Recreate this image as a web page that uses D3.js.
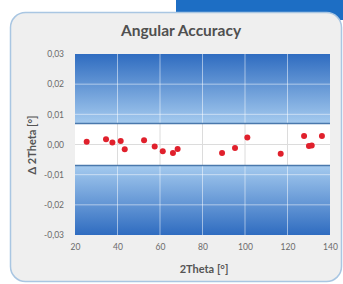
<!DOCTYPE html>
<html lang="en">
<head>
    <meta charset="UTF-8">
    <title>Angular Accuracy</title>
    <style>
        body {
            margin: 0;
            background-color: #fff;
        }

        #chart {
            display: block;
        }

        .tick text {
            font-family: Lato, sans-serif;
            font-size: 8.5px;
            fill: #6a6a6a;
        }
    </style>
</head>
<body>
    <svg id="chart" width="343" height="284"></svg>

    <script src="https://cdnjs.cloudflare.com/ajax/libs/d3/7.8.5/d3.min.js"></script>
    <script>
        // measured points (2Theta, delta 2Theta)
        const twoTheta = [25.5, 34.6, 37.6, 41.5, 43.4, 52.5, 57.5, 61.3, 66.1, 68.3, 89.2, 95.3, 101.1, 116.8, 127.8, 130.1, 131.4, 136.2];
        const delta = [0.0009, 0.0017, 0.0007, 0.0012, -0.0016, 0.0014, -0.0007, -0.0022, -0.0028, -0.0015, -0.0028, -0.0012, 0.0023, -0.0031, 0.0028, -0.0005, -0.0003, 0.0028];

        const xTicks = [20, 40, 60, 80, 100, 120, 140];
        const yTicks = [-0.03, -0.02, -0.01, 0, 0.01, 0.02, 0.03];
        const tolerance = [-0.007, 0.007];

        const svg = d3.select('#chart');
        const margin = { left: 75, right: 13, top: 54, bottom: 49 };
        const W = 343, H = 284;

        // blue tab behind card
        svg.append('rect')
            .attr('x', 176).attr('y', 0)
            .attr('width', 167).attr('height', 20)
            .attr('fill', '#1d6ec4');

        // card
        svg.append('rect')
            .attr('x', 10.5).attr('y', 12.5)
            .attr('width', 331).attr('height', 269)
            .attr('rx', 15)
            .attr('fill', '#efefef')
            .attr('stroke', '#a9c6e2')
            .attr('stroke-width', 1.5);

        let x = d3.scaleLinear()
            .domain([20, 140])
            .range([margin.left, W - margin.right]);

        let y = d3.scaleLinear()
            .domain([-0.03, 0.03])
            .range([H - margin.bottom, margin.top]);

        // gradient background
        let defs = svg.append('defs');
        let grad = defs.append('linearGradient')
            .attr('id', 'bg')
            .attr('x1', 0).attr('y1', 0).attr('x2', 0).attr('y2', 1);
        grad.append('stop').attr('offset', '0%').attr('stop-color', '#2f6cc0');
        grad.append('stop').attr('offset', '38%').attr('stop-color', '#a3c9ee');
        grad.append('stop').attr('offset', '62%').attr('stop-color', '#a3c9ee');
        grad.append('stop').attr('offset', '100%').attr('stop-color', '#2f6cc0');

        svg.append('rect')
            .attr('x', x(20)).attr('y', y(0.03))
            .attr('width', x(140) - x(20))
            .attr('height', y(-0.03) - y(0.03))
            .attr('fill', 'url(#bg)');

        // white tolerance band
        svg.append('rect')
            .attr('x', x(20)).attr('y', y(tolerance[1]))
            .attr('width', x(140) - x(20))
            .attr('height', y(tolerance[0]) - y(tolerance[1]))
            .attr('fill', '#fff');

        // grid
        let grid = svg.append('g');
        grid.selectAll('line.v')
            .data(xTicks.slice(1, -1))
            .join('line')
            .attr('x1', d => x(d)).attr('x2', d => x(d))
            .attr('y1', y(0.03)).attr('y2', y(-0.03))
            .attr('stroke', '#ffffff')
            .attr('stroke-opacity', 0.5);
        grid.selectAll('line.v2')
            .data(xTicks.slice(1, -1))
            .join('line')
            .attr('x1', d => x(d)).attr('x2', d => x(d))
            .attr('y1', y(tolerance[1])).attr('y2', y(tolerance[0]))
            .attr('stroke', '#dcdcdc');
        grid.selectAll('line.h')
            .data(yTicks.slice(1, -1))
            .join('line')
            .attr('x1', x(20)).attr('x2', x(140))
            .attr('y1', d => y(d)).attr('y2', d => y(d))
            .attr('stroke', d => d === 0 ? '#dcdcdc' : '#ffffff')
            .attr('stroke-opacity', d => d === 0 ? 1 : 0.5);

        // band edges
        svg.selectAll('line.band')
            .data(tolerance)
            .join('line')
            .attr('x1', x(20)).attr('x2', x(140))
            .attr('y1', d => y(d)).attr('y2', d => y(d))
            .attr('stroke', '#4a78ac')
            .attr('stroke-width', 1.5);

        // axes
        let axisX = d3.axisBottom(x).tickValues(xTicks).tickSize(0).tickPadding(9);
        svg.append('g')
            .attr('transform', `translate(0,${y(-0.03)})`)
            .call(axisX)
            .call(g => g.select('.domain').remove());

        let axisY = d3.axisLeft(y).tickValues(yTicks).tickSize(0).tickPadding(11)
            .tickFormat(d => d3.format('.2f')(d).replace('.', ',').replace('−', '-'));
        svg.append('g')
            .attr('transform', `translate(${x(20)},0)`)
            .call(axisY)
            .call(g => g.select('.domain').remove());

        // points
        svg.append('g')
            .selectAll('circle')
            .data(twoTheta)
            .join('circle')
            .attr('cx', d => x(d))
            .attr('cy', (d, i) => y(delta[i]))
            .attr('r', 3)
            .attr('fill', '#e0202c');

        // titles
        svg.append('text')
            .attr('x', 181).attr('y', 36)
            .attr('text-anchor', 'middle')
            .attr('font-family', 'Lato, sans-serif')
            .attr('font-weight', 'bold')
            .attr('font-size', 15.5)
            .attr('fill', '#505050')
            .text('Angular Accuracy');

        svg.append('text')
            .attr('x', 204).attr('y', 273)
            .attr('text-anchor', 'middle')
            .attr('font-family', 'Lato, sans-serif')
            .attr('font-weight', 'bold')
            .attr('font-size', 11)
            .attr('fill', '#555')
            .text('2Theta [°]');

        svg.append('text')
            .attr('transform', 'translate(36,145) rotate(-90)')
            .attr('text-anchor', 'middle')
            .attr('font-family', 'Lato, sans-serif')
            .attr('font-weight', 'bold')
            .attr('font-size', 11)
            .attr('fill', '#555')
            .text('Δ 2Theta [°]');
    </script>
</body>
</html>
